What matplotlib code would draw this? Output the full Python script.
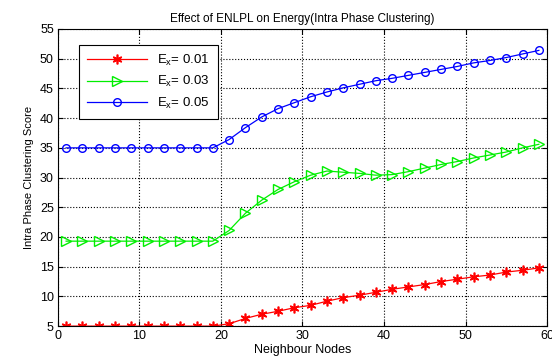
import numpy as np
from matplotlib import pyplot as plt

plt.rcParams['font.family'] = ['Liberation Sans', 'DejaVu Sans']

# Neighbour nodes (x positions of the markers)
nodes = list(range(1, 60, 2))

# Intra phase clustering score per Ex
score_001 = [5.0, 5.0, 5.0, 5.0, 5.0, 5.0, 5.0, 5.0, 5.0, 5.0,
             5.4, 6.3, 7.0, 7.5, 8.1, 8.5, 9.2, 9.8, 10.2, 10.7,
             11.2, 11.6, 12.0, 12.5, 12.9, 13.3, 13.6, 14.1, 14.4, 14.8]
score_003 = [19.3, 19.3, 19.3, 19.3, 19.3, 19.3, 19.3, 19.3, 19.3, 19.3,
             21.1, 24.0, 26.2, 28.0, 29.3, 30.4, 31.1, 30.9, 30.7, 30.4,
             30.5, 31.0, 31.6, 32.2, 32.7, 33.3, 33.8, 34.3, 35.0, 35.6]
score_005 = [35.0, 35.0, 35.0, 35.0, 35.0, 35.0, 35.0, 35.0, 35.0, 35.0,
             36.4, 38.4, 40.2, 41.6, 42.6, 43.6, 44.4, 45.1, 45.7, 46.3,
             46.7, 47.2, 47.7, 48.2, 48.7, 49.3, 49.7, 50.2, 50.8, 51.4]

labels = ['E$_\\mathregular{x}$= 0.01', 'E$_\\mathregular{x}$= 0.03', 'E$_\\mathregular{x}$= 0.05']

fig = plt.figure(figsize=(5.52, 3.58), dpi=100)
ax = fig.add_axes([0.105, 0.089, 0.886, 0.830])

# asterisk marker like matlab '*'
ax.plot(nodes, score_001, color='red', marker=(6, 2, 0), markersize=7, mew=1.2, lw=0.9, label=labels[0])
ax.plot(nodes, score_003, color='#00ee00', marker='>', markersize=6.5, mfc='none', lw=0.9, label=labels[1])
ax.plot(nodes, score_005, color='blue', marker='o', markersize=5.5, mfc='none', lw=0.9, label=labels[2])

ax.set_xlim(0, 60)
ax.set_ylim(5, 55)
ax.set_xticks(range(0, 61, 10))
ax.set_yticks(range(5, 56, 5))
ax.grid(True, linestyle=':', color='black', linewidth=0.8)
ax.tick_params(direction='in', top=True, right=True, labelsize=9, pad=3)

ax.set_title("Effect of ENLPL on Energy(Intra Phase Clustering)", fontsize=8.5, pad=5)
ax.set_xlabel("Neighbour Nodes", fontsize=9, labelpad=1)
ax.set_ylabel("Intra Phase Clustering Score", fontsize=8)

leg = ax.legend(loc='upper left', bbox_to_anchor=(0.03, 0.97), fancybox=False, framealpha=1,
                edgecolor='black', fontsize=9.5, handlelength=4.5, borderpad=0.6, markerscale=1.0)
leg.get_frame().set_linewidth(0.8)

plt.savefig('out.png', dpi=100)
